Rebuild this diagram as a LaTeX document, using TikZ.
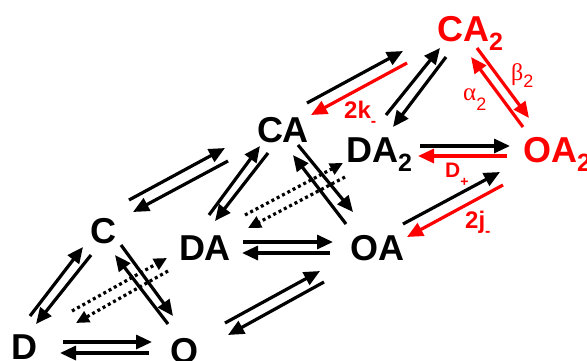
\documentclass[tikz,border=0pt]{standalone}
\usepackage{fontspec}
\setmainfont{Liberation Sans}
\newfontfamily\grk{Liberation Serif}
\usetikzlibrary{arrows.meta,calc}
\definecolor{myred}{RGB}{255,0,0}
\newcommand\sbs[1]{\raisebox{-9pt}{\fontsize{25}{25}\selectfont #1}}
\begin{document}
\begin{tikzpicture}[x=1pt,y=-1pt,
  st/.style={font=\fontsize{36}{36}\selectfont\bfseries, inner sep=0pt, anchor=base},
  lab/.style={font=\fontsize{24}{24}\selectfont\bfseries, text=myred, inner sep=0pt, anchor=base west},
  ar/.style={line width=3.2pt, -{Triangle[length=16pt,width=14pt]}},
  dt/.style={line width=3.2pt, dash pattern=on 3pt off 3pt, -{Triangle[length=13pt,width=12pt]}}]
\useasboundingbox (0,0) rectangle (587,360);
% states
\node[st] (D) at (24,359) {D};
\node[st] (O) at (185,363) {O};
\node[st] (C) at (103,243) {C};
\node[st] (DA) at (205,260) {DA};
\node[st] (OA) at (377,260) {OA};
\node[st] (CA) at (283,142) {CA};
\node[st] (DA2) at (379,162) {DA\sbs{2}};
\node[st,text=myred] (OA2) at (557,162) {OA\sbs{2}};
\node[st,text=myred] (CA2) at (470,41) {CA\sbs{2}};
% labels
\node[lab] (k) at (344,118) {2k\raisebox{-8pt}{\fontsize{16}{16}\selectfont -}};
\node[lab] (j) at (465,228) {2j\raisebox{-8pt}{\fontsize{16}{16}\selectfont -}};
\node[lab,font=\fontsize{21}{21}\selectfont\bfseries] (Dp) at (445,177) {D\raisebox{-9pt}{\fontsize{14}{14}\selectfont +}};
\node[inner sep=0pt, anchor=base west, text=myred] (b2) at (511,80) {\grk\fontsize{24}{24}\selectfont β\raisebox{-7pt}{\rmfamily\mdseries\fontsize{18}{18}\selectfont 2}};
\node[inner sep=0pt, anchor=base west, text=myred] (a2) at (463,100) {\grk\fontsize{25}{25}\selectfont α\raisebox{-10pt}{\rmfamily\mdseries\fontsize{18}{18}\selectfont 2}};
% connectors
\draw[ar] ($(D.base)+(39,-17)$) -- ($(O.base)+(-33,-21)$);
\draw[ar] ($(O.base)+(-36,-10)$) -- ($(D.base)+(36,-6)$);
\draw[ar] ($(D.base)+(6,-43)$) -- ($(C.base)+(-20,4)$);
\draw[ar] ($(C.base)+(-12,12)$) -- ($(D.base)+(12,-35)$);
\draw[ar] ($(C.base)+(18,2)$) -- ($(O.base)+(-12,-47)$);
\draw[ar] ($(O.base)+(-17,-39)$) -- ($(C.base)+(12,12)$);
\draw[dt] ($(D.base)+(48,-48)$) -- ($(DA.base)+(-38,-2)$);
\draw[dt] ($(DA.base)+(-37,11)$) -- ($(D.base)+(52,-36)$);
\draw[ar] ($(C.base)+(26,-43)$) -- ($(CA.base)+(-58,6)$);
\draw[ar] ($(CA.base)+(-55,19)$) -- ($(C.base)+(30,-31)$);
\draw[ar] ($(DA.base)+(4,-45)$) -- ($(CA.base)+(-23,4)$);
\draw[ar] ($(CA.base)+(-15,11)$) -- ($(DA.base)+(10,-39)$);
\draw[ar] ($(CA.base)+(15,3)$) -- ($(OA.base)+(-24,-48)$);
\draw[ar] ($(OA.base)+(-31,-36)$) -- ($(CA.base)+(10,13)$);
\draw[dt] ($(DA.base)+(40,-45)$) -- ($(DA2.base)+(-36,1)$);
\draw[dt] ($(DA2.base)+(-34,15)$) -- ($(DA.base)+(43,-32)$);
\draw[ar] ($(DA.base)+(38,-18)$) -- ($(OA.base)+(-44,-18)$);
\draw[ar] ($(OA.base)+(-47,-7)$) -- ($(DA.base)+(37,-7)$);
\draw[ar] ($(O.base)+(40,-40)$) -- ($(OA.base)+(-57,11)$);
\draw[ar] ($(OA.base)+(-53,22)$) -- ($(O.base)+(43,-28)$);
\draw[ar] ($(OA.base)+(26,-36)$) -- ($(OA2.base)+(-57,10)$);
\draw[ar,myred] ($(OA2.base)+(-54,23)$) -- ($(OA.base)+(30,-23)$);
\draw[ar] ($(DA2.base)+(41,-16)$) -- ($(OA2.base)+(-47,-16)$);
\draw[ar,myred] ($(OA2.base)+(-50,-6)$) -- ($(DA2.base)+(39,-6)$);
\draw[ar] ($(DA2.base)+(7,-47)$) -- ($(CA2.base)+(-30,7)$);
\draw[ar] ($(CA2.base)+(-24,16)$) -- ($(DA2.base)+(14,-35)$);
\draw[ar] ($(CA.base)+(24,-39)$) -- ($(CA2.base)+(-67,10)$);
\draw[ar,myred] ($(CA2.base)+(-63,22)$) -- ($(CA.base)+(28,-27)$);
\draw[ar,myred] ($(CA2.base)+(7,7)$) -- ($(OA2.base)+(-28,-44)$);
\draw[ar,myred] ($(OA2.base)+(-34,-35)$) -- ($(CA2.base)+(1,16)$);
\end{tikzpicture}
\end{document}
